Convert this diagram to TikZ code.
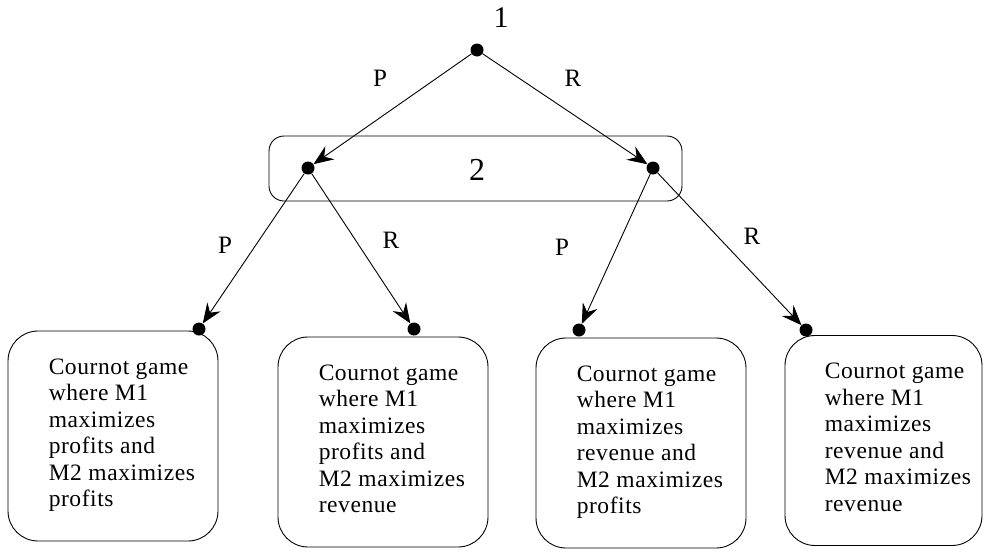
\documentclass[tikz,border=0pt]{standalone}
\usepackage{fontspec}
\setmainfont{Liberation Serif}
\usetikzlibrary{arrows.meta}
\begin{document}
\begin{tikzpicture}[x=1pt,y=-1pt,
  dot/.style={circle,fill=black,inner sep=0pt,minimum size=13pt},
  edge/.style={line width=0.9pt,-{Stealth[length=20pt,width=16pt,inset=7pt]}},
  outcome/.style={draw,line width=0.9pt,rounded corners=30pt,minimum height=210pt,inner sep=0pt},
  desc/.style={anchor=north west,inner sep=0pt,align=left,font=\fontsize{23.5}{26.5}\selectfont\addfontfeatures{LetterSpace=2.5}},
  lbl/.style={font=\fontsize{25}{28}\selectfont,inner sep=0pt}]
\useasboundingbox (0,0) rectangle (984,552);
% information set of player 2
\node[draw,line width=0.9pt,rounded corners=15pt,minimum width=413pt,minimum height=65pt,inner sep=0pt] (info) at (475.5,168.5) {};
\node[font=\fontsize{32}{34}\selectfont,inner sep=0pt] (two) at (477,170) {2};
% decision nodes
\node[dot] (root) at (477,50) {};
\node[font=\fontsize{30}{32}\selectfont,inner sep=0pt] (one) at (501,18) {1};
\node[dot] (L) at (308,168) {};
\node[dot] (R) at (653,168) {};
\node[dot] (a) at (199,329) {};
\node[dot] (b) at (414,329) {};
\node[dot] (c) at (579,330) {};
\node[dot] (d) at (806,330) {};
% edges
\draw[edge] (root) -- (L);
\draw[edge] (root) -- (R);
\draw[edge] (L) -- (a);
\draw[edge] (L) -- (b);
\draw[edge] (R) -- (c);
\draw[edge] (R) -- (d);
% action labels
\node[lbl] (p1) at (380,78) {P};
\node[lbl] (r1) at (573,78) {R};
\node[lbl] (p2) at (225,245) {P};
\node[lbl] (r2) at (391,240) {R};
\node[lbl] (p3) at (562,247) {P};
\node[lbl] (r3) at (752,236) {R};
% outcome boxes
\node[outcome,minimum width=210pt] (o1) at (113,436) {};
\node[outcome,minimum width=210pt] (o2) at (383,442) {};
\node[outcome,minimum width=210pt] (o3) at (641,443) {};
\node[outcome,minimum width=197pt] (o4) at (883.5,440.5) {};
\node[desc,xshift=41pt,yshift=-28pt] (t1) at (o1.north west) {Cournot game\\where M1\\maximizes\\profits and\\M2 maximizes\\profits};
\node[desc,xshift=41pt,yshift=-28pt] (t2) at (o2.north west) {Cournot game\\where M1\\maximizes\\profits and\\M2 maximizes\\revenue};
\node[desc,xshift=41pt,yshift=-28pt] (t3) at (o3.north west) {Cournot game\\where M1\\maximizes\\revenue and\\M2 maximizes\\profits};
\node[desc,xshift=40pt,yshift=-28pt] (t4) at (o4.north west) {Cournot game\\where M1\\maximizes\\revenue and\\M2 maximizes\\revenue};
\end{tikzpicture}
\end{document}
